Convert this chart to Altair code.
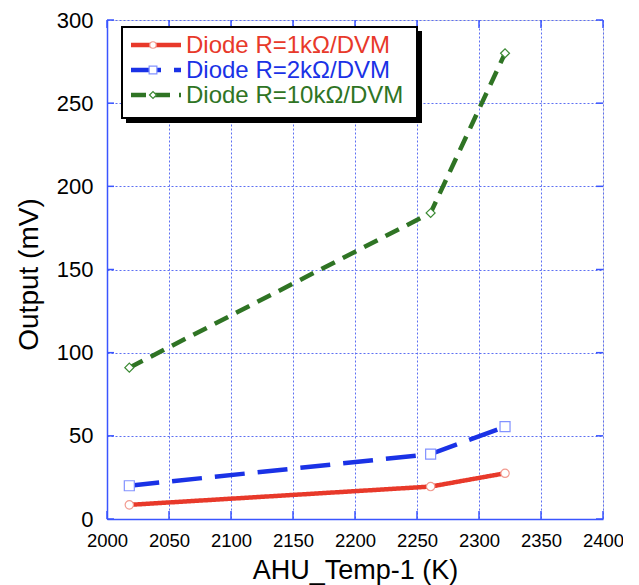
import altair as alt
import pandas as pd

# ---- data ----
temps = [2018, 2261, 2321]
series_names = ["Diode R=1kΩ/DVM", "Diode R=2kΩ/DVM", "Diode R=10kΩ/DVM"]
out_1k = [8.5, 19.5, 27.5]
out_2k = [20, 39, 55.5]
out_10k = [91, 184, 280]
x_ticks = [2000, 2050, 2100, 2150, 2200, 2250, 2300, 2350, 2400]
y_ticks = [0, 50, 100, 150, 200, 250, 300]

colors = ["#e8392a", "#1a32e6", "#2f7424"]
marker_strokes = ["#f29a8f", "#8292ff", "#3b8a33"]
shapes = ["circle", "square", "diamond"]
dashes = [[1, 0], [30, 13], [15, 9]]
sizes = [70, 100, 80]

W, H = 496, 499
FONT = "Liberation Sans"
GRID = "#5d6ff2"
FRAME = "#3a55ff"

rows = []
for name, vals in zip(series_names, [out_1k, out_2k, out_10k]):
    for t, v in zip(temps, vals):
        rows.append({"series": name, "temp": t, "out": v})
df = pd.DataFrame(rows)

xscale = alt.Scale(domain=[2000, 2400], nice=False, zero=False)
yscale = alt.Scale(domain=[0, 300], nice=False)

xaxis = alt.Axis(values=x_ticks, format="d", title="AHU_Temp-1 (K)", labelFontSize=18.5, labelFont=FONT,
                 labelColor="black", labelPadding=12, ticks=False,
                 labelFlush=False, labelOverlap=False, labelBound=False,
                 titleFontSize=27, titleFont=FONT, titleFontWeight="normal", titleColor="black",
                 titleX=W / 2, titleY=59, titleBaseline="alphabetic",
                 grid=True, gridColor=GRID, gridDash=[2, 2], gridWidth=1,
                 domainColor=FRAME, domainWidth=1.5)
yaxis = alt.Axis(values=y_ticks, format="d", title="Output (mV)", labelFontSize=22, labelFont=FONT,
                 labelColor="black", labelPadding=14, ticks=False,
                 labelFlush=False, labelOverlap=False, labelBound=False,
                 titleFontSize=28, titleFont=FONT, titleFontWeight="normal", titleColor="black",
                 titleX=-70, titleY=254, titleBaseline="alphabetic", titleAngle=-90,
                 grid=True, gridColor=GRID, gridDash=[2, 2], gridWidth=1,
                 domainColor=FRAME, domainWidth=1.5)

base = alt.Chart(df)
layers = []
# axes layer (invisible points to carry axes)
layers.append(base.mark_point(opacity=0).encode(
    x=alt.X("temp:Q", scale=xscale, axis=xaxis),
    y=alt.Y("out:Q", scale=yscale, axis=yaxis)))

# inward ticks
tick_y = pd.DataFrame({"v": y_ticks})
tick_x = pd.DataFrame({"v": x_ticks})
for x0, x1 in [(0, 7), (W - 7, W)]:
    layers.append(alt.Chart(tick_y).mark_rule(color=FRAME, strokeWidth=1.5).encode(
        y=alt.Y("v:Q", scale=yscale), x=alt.value(x0), x2=alt.value(x1)))
for y0, y1 in [(H - 8, H), (0, 8)]:
    layers.append(alt.Chart(tick_x).mark_rule(color=FRAME, strokeWidth=1.5).encode(
        x=alt.X("v:Q", scale=xscale), y=alt.value(y0), y2=alt.value(y1)))

# series lines then markers
for i in [2, 1, 0]:
    sub = df[df.series == series_names[i]]
    layers.append(alt.Chart(sub).mark_line(color=colors[i], strokeWidth=4.5,
                                           strokeDash=dashes[i]).encode(
        x=alt.X("temp:Q", scale=xscale), y=alt.Y("out:Q", scale=yscale)))
for i in [2, 1, 0]:
    sub = df[df.series == series_names[i]]
    layers.append(alt.Chart(sub).mark_point(shape=shapes[i], filled=True, fill="white",
                                            stroke=marker_strokes[i], strokeWidth=1.2,
                                            size=sizes[i], opacity=1).encode(
        x=alt.X("temp:Q", scale=xscale), y=alt.Y("out:Q", scale=yscale)))

# manual legend
leg = pd.DataFrame({"label": series_names})
layers.append(alt.Chart(leg.head(1)).mark_rect(color="black").encode(
    x=alt.value(19), x2=alt.value(315), y=alt.value(11), y2=alt.value(103)))
layers.append(alt.Chart(leg.head(1)).mark_rect(fill="white", stroke="black", strokeWidth=2).encode(
    x=alt.value(15), x2=alt.value(310), y=alt.value(7), y2=alt.value(98)))
row_y = [25, 50, 75]
for i, name in enumerate(series_names):
    one = leg.iloc[[i]]
    layers.append(alt.Chart(one).mark_rule(color=colors[i], strokeWidth=4.5,
                                           strokeDash=dashes[i]).encode(
        x=alt.value(24), x2=alt.value(74), y=alt.value(row_y[i])))
    layers.append(alt.Chart(one).mark_point(shape=shapes[i], filled=True, fill="white",
                                            stroke=marker_strokes[i], strokeWidth=1.2,
                                            size=sizes[i] * 0.6, opacity=1).encode(
        x=alt.value(46), y=alt.value(row_y[i])))
    layers.append(alt.Chart(one).mark_text(align="left", baseline="middle", fontSize=24,
                                           font=FONT, color=colors[i]).encode(
        x=alt.value(79), y=alt.value(row_y[i] + 1), text="label:N"))

chart = alt.layer(*layers).properties(
    width=W, height=H,
    autosize=alt.AutoSizeParams(type="none"),
    padding={"left": 99, "top": 12, "right": 20, "bottom": 66},
).configure_view(stroke=FRAME, strokeWidth=1.5).configure(background="white")

chart.save("out.html", embed_options={"renderer": "svg", "actions": False})
